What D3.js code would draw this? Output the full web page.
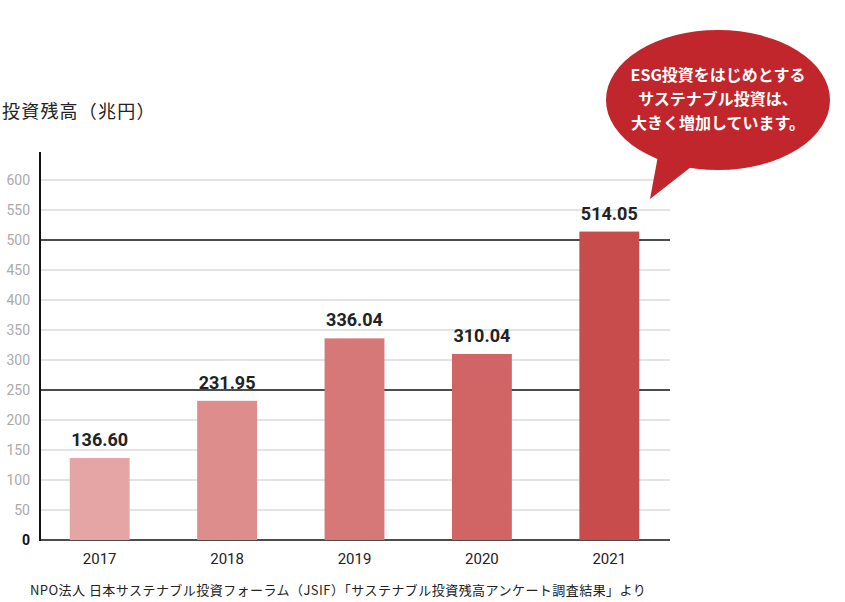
<!DOCTYPE html>
<html><head><meta charset="utf-8">
<script src="https://cdn.jsdelivr.net/npm/d3@7"></script>
<style>body{margin:0;background:#fff;font-family:"Noto Sans CJK JP","Noto Sans",sans-serif;}</style>
</head><body>
<svg id="chart" width="845" height="602"></svg>
<script>
const years = ['2017', '2018', '2019', '2020', '2021'];
const values = [136.60, 231.95, 336.04, 310.04, 514.05];
const barColors = ['#e5a5a5', '#de8d8d', '#d77878', '#d16464', '#c94c4c'];
const ticks = d3.range(0, 601, 50);
const bubbleLines = ['ESG投資をはじめとする', 'サステナブル投資は、', '大きく増加しています。'];

const svg = d3.select('#chart');
const x = d3.scaleBand().domain(years).range([36, 673]).paddingInner(0.53).paddingOuter(0.265);
const y = d3.scaleLinear().domain([0, 600]).range([540, 180]);

svg.append('g').selectAll('line').data(ticks).join('line')
  .attr('x1', 40).attr('x2', 670)
  .attr('y1', d => y(d)).attr('y2', d => y(d))
  .attr('stroke', d => d % 250 === 0 ? '#111' : '#c8c8c8')
  .attr('stroke-width', d => d % 250 === 0 ? 1.5 : 1.2);

svg.append('g').selectAll('text').data(ticks).join('text')
  .attr('x', 30).attr('y', d => y(d) + 5).attr('text-anchor', 'end')
  .attr('font-size', 14).attr('font-family', 'Roboto, sans-serif')
  .attr('fill', d => d === 0 ? '#111' : '#aaa')
  .attr('font-weight', d => d === 0 ? 'bold' : 'normal')
  .text(d => d);

svg.append('line').attr('x1', 40).attr('x2', 40).attr('y1', 152).attr('y2', 541)
  .attr('stroke', '#111').attr('stroke-width', 2);

svg.append('g').selectAll('rect').data(values).join('rect')
  .attr('x', (d, i) => x(years[i])).attr('width', x.bandwidth())
  .attr('y', d => y(d)).attr('height', d => y(0) - y(d))
  .attr('fill', (d, i) => barColors[i]);

svg.append('g').selectAll('text').data(values).join('text')
  .attr('x', (d, i) => x(years[i]) + x.bandwidth() / 2).attr('y', d => y(d) - 12)
  .attr('text-anchor', 'middle').attr('font-size', 18).attr('font-weight', 'bold')
  .attr('font-family', 'Roboto, sans-serif').attr('fill', '#222')
  .text(d => d.toFixed(2));

svg.append('g').selectAll('text').data(years).join('text')
  .attr('x', d => x(d) + x.bandwidth() / 2).attr('y', 564)
  .attr('text-anchor', 'middle').attr('font-size', 15)
  .attr('font-family', 'Roboto, sans-serif').attr('fill', '#222')
  .text(d => d);

svg.append('text').attr('x', 2).attr('y', 118).attr('font-size', 18).attr('fill', '#222')
  .attr('letter-spacing', 1.2)
  .text('投資残高（兆円）');

svg.append('text').attr('x', 30).attr('y', 595).attr('font-size', 13).attr('fill', '#222')
  .attr('letter-spacing', 0.45)
  .text('NPO法人 日本サステナブル投資フォーラム（JSIF）「サステナブル投資残高アンケート調査結果」より');

// speech bubble
const bubble = svg.append('g');
bubble.append('path').attr('d', 'M660,145 L650,199 L700,160 Z').attr('fill', '#c0262c');
bubble.append('ellipse').attr('cx', 718).attr('cy', 100).attr('rx', 112).attr('ry', 70).attr('fill', '#c0262c');
bubble.append('g').selectAll('text').data(bubbleLines).join('text')
  .attr('x', 718).attr('y', (d, i) => 81 + i * 24).attr('text-anchor', 'middle')
  .attr('font-size', 16).attr('font-weight', 'bold').attr('fill', '#fff')
  .text(d => d);
</script>
</body></html>
